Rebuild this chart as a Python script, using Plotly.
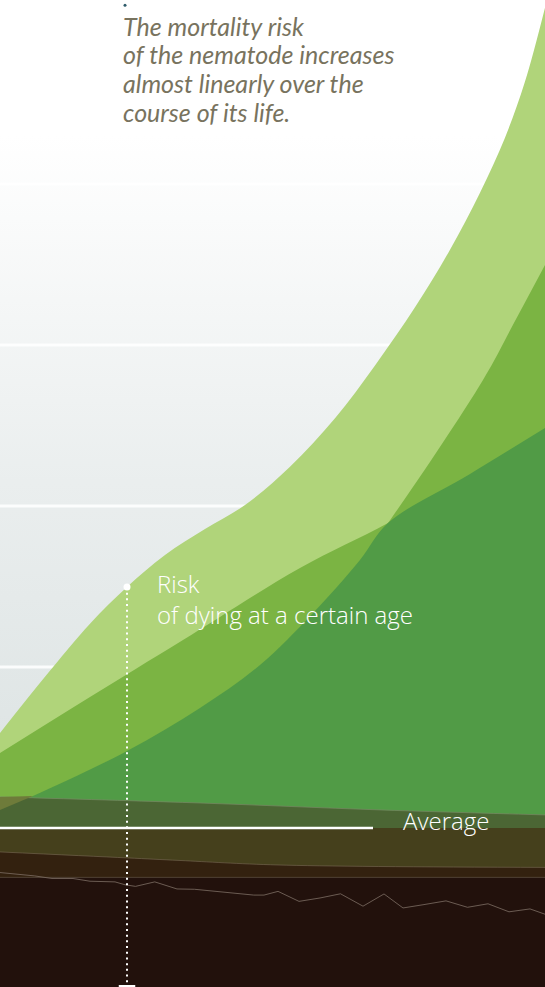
import plotly.graph_objects as go

# ---------------- data (age in days, risk in arbitrary units; 0 = average) ----
X_MAX = 21.8
Y_MIN, Y_MAX = -9.88, 51.43
GRID_VALUES = [10, 20, 30, 40]

# light green: risk of dying at a certain age
AGE_L = [0, 1.8, 3.6, 5.08, 6.6, 8.2, 9.8, 11.6, 13.4, 15.0, 16.6, 18.0, 19.2, 20.2, 21.0, 21.8]
RISK_L = [5.90, 9.39, 12.69, 14.97, 16.96, 18.57, 20.06, 22.44, 25.45, 28.73, 32.34, 35.92,
          39.46, 42.88, 46.36, 50.95]

# two overlapping green curves (cross at CROSS_AGE)
AGE_P = [0, 3.6, 7.32, 12.0, 15.52, 18.8, 21.8]
RISK_P = [4.66, 8.14, 11.68, 16.15, 18.94, 21.99, 24.84]
AGE_Q = [0, 1.32, 5.08, 8.0, 10.4, 12.52, 14.4, 15.52, 19.32, 20.6, 21.8]
RISK_Q = [1.12, 1.99, 4.78, 7.45, 10.12, 13.35, 16.65, 18.94, 27.83, 31.49, 34.97]
CROSS_AGE = 15.52

# lower bands
AGE_A = [0, 8.0, 15.2, 21.8]
TOP_A = [1.93, 1.55, 1.12, 0.81]
AVERAGE = 0.0
AVG_LINE_END = 14.92
AGE_B = [0, 5.08, 7.2, 11.12, 21.8]
BOTTOM_B = [-1.49, -1.86, -2.02, -2.30, -2.45]
BOTTOM_C = -3.07

AGE_J = [0, 1.39, 2.08, 2.92, 3.6, 4.6, 5.0, 5.42, 6.19, 7.08, 7.78, 8.9, 10.15, 10.56,
         11.12, 11.96, 12.8, 13.62, 14.52, 15.36, 16.12, 16.96, 17.84, 18.7, 19.52, 20.36, 21.2, 21.8]
VAL_J = [-2.77, -2.98, -3.14, -3.14, -3.31, -3.35, -3.53, -3.63, -3.35, -3.79, -3.81, -3.96, -4.17, -4.17,
         -3.94, -4.56, -4.35, -4.09, -4.86, -4.10, -4.97, -4.76, -4.53, -4.93, -4.71, -5.21, -5.03, -5.36]

AGE_MARK = 5.08
MARK_BOTTOM = -9.63
TOP_DOT = (5.0, 51.1)

TITLE_LINES = ["The mortality risk", "of the nematode increases",
               "almost linearly over the", "course of its life."]
RISK_LABEL = "Risk<br>of dying at a certain age"
AVG_LABEL = "Average"

# ---------------- colours ----------------
C_LIGHT = "#b0d47a"
C_MED = "#7bb443"
C_DARK = "#519b46"
C_A = "#4b6634"
C_OVER = "#6e7b3a"
C_B = "#45401c"
C_C = "#33210f"
C_D = "#22110c"

fig = go.Figure()

# background gradient
fig.add_trace(go.Scatter(
    x=[0, X_MAX, X_MAX, 0, 0], y=[Y_MIN, Y_MIN, Y_MAX, Y_MAX, Y_MIN],
    mode="lines", line=dict(width=0), fill="toself",
    fillgradient=dict(type="vertical",
                      colorscale=[[0, "#dbe2e2"], [0.5, "#eaeeee"], [1, "#ffffff"]],
                      start=0, stop=43),
    hoverinfo="skip"))

# grid lines
gx, gy = [], []
for v in GRID_VALUES:
    gx += [0, X_MAX, None]
    gy += [v, v, None]
fig.add_trace(go.Scatter(x=gx, y=gy, mode="lines",
                         line=dict(color="rgba(255,255,255,0.85)", width=3), hoverinfo="skip"))


def baseline():
    fig.add_trace(go.Scatter(x=[0, X_MAX], y=[Y_MIN, Y_MIN], mode="lines",
                             line=dict(width=0), hoverinfo="skip"))


def area(x, y, color, line=None, shape="spline"):
    baseline()
    fig.add_trace(go.Scatter(x=x, y=y, mode="lines", fill="tonexty", fillcolor=color,
                             line=line or dict(width=0, color=color), line_shape=shape,
                             hoverinfo="skip"))


area(AGE_L, RISK_L, C_LIGHT)
area(AGE_P, RISK_P, C_MED)
area(AGE_Q, RISK_Q, C_MED)
kq = AGE_Q.index(CROSS_AGE)
kp = AGE_P.index(CROSS_AGE)
area(AGE_Q[:kq + 1] + AGE_P[kp + 1:], RISK_Q[:kq + 1] + RISK_P[kp + 1:], C_DARK)

area(AGE_A, TOP_A, C_A, line=dict(width=1, color="rgba(120,135,100,0.7)"))
# overlap of band A with the medium-green region at the far left
fig.add_trace(go.Scatter(x=[AGE_Q[0], AGE_Q[1], AGE_A[0], AGE_Q[0]],
                         y=[RISK_Q[0], RISK_Q[1], TOP_A[0], RISK_Q[0]],
                         mode="lines", fill="toself", fillcolor=C_OVER,
                         line=dict(width=0), hoverinfo="skip"))
area([0, X_MAX], [AVERAGE, AVERAGE], C_B, shape="linear")
area(AGE_B, BOTTOM_B, C_C, line=dict(width=1, color="rgba(120,105,85,0.6)"))
area([0, X_MAX], [BOTTOM_C, BOTTOM_C], C_D, line=dict(width=1, color="rgba(110,95,80,0.6)"),
     shape="linear")

# jagged line
fig.add_trace(go.Scatter(x=AGE_J, y=VAL_J, mode="lines",
                         line=dict(color="rgba(125,110,100,0.8)", width=1), hoverinfo="skip"))

# average line
fig.add_trace(go.Scatter(x=[0, AVG_LINE_END], y=[AVERAGE, AVERAGE], mode="lines",
                         line=dict(color="white", width=2.5), hoverinfo="skip"))

# dotted marker line
mark_y = RISK_L[AGE_L.index(AGE_MARK)]
fig.add_trace(go.Scatter(x=[AGE_MARK, AGE_MARK], y=[mark_y, MARK_BOTTOM], mode="lines",
                         line=dict(color="white", width=2, dash="2px,3.7px"), hoverinfo="skip"))
fig.add_trace(go.Scatter(x=[AGE_MARK], y=[mark_y], mode="markers",
                         marker=dict(color="white", size=7), hoverinfo="skip"))
fig.add_trace(go.Scatter(x=[AGE_MARK - 0.33, AGE_MARK + 0.33], y=[Y_MIN, Y_MIN], mode="lines",
                         line=dict(color="white", width=4), hoverinfo="skip"))
fig.add_trace(go.Scatter(x=[TOP_DOT[0]], y=[TOP_DOT[1]], mode="markers",
                         marker=dict(color="#2f5c6b", size=3), hoverinfo="skip"))

W, H = 545, 987


def label(text, left_px, baseline_px, size, color, family, italic=False, weight=None):
    top = baseline_px - 1.08 * size
    font = dict(family=family, size=size, color=color)
    if weight:
        font["weight"] = weight
    fig.add_annotation(text=f"<i>{text}</i>" if italic else text,
                       xref="paper", yref="paper", x=left_px / W, y=1 - top / H,
                       xanchor="left", yanchor="top", align="left", showarrow=False,
                       font=font, borderpad=0)


for i, line in enumerate(TITLE_LINES):
    label(line, 122, 36.7 + i * 28.7, 25, "#78735e", "Lato", italic=True)
label(RISK_LABEL, 156, 592, 24, "white", "Open Sans", weight=300)
label(AVG_LABEL, 402, 829, 24, "white", "Open Sans", weight=300)

fig.update_layout(
    width=W, height=H, margin=dict(l=0, r=0, t=0, b=0),
    paper_bgcolor="white", plot_bgcolor="white", showlegend=False,
    xaxis=dict(range=[0, X_MAX], visible=False, fixedrange=True),
    yaxis=dict(range=[Y_MIN, Y_MAX], visible=False, fixedrange=True),
    hovermode=False,
)

fig.write_html("out.html", config={"displayModeBar": False},
               post_script="document.body.style.margin='0';")
